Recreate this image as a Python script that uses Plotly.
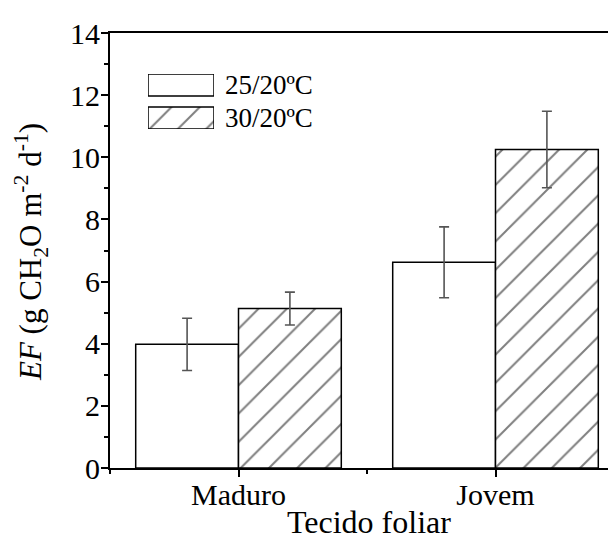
import plotly.graph_objects as go

categories = ["Maduro", "Jovem"]
series_names = ["25/20ºC", "30/20ºC"]
ef_25 = [3.98, 6.62]
err_25 = [0.84, 1.14]
ef_30 = [5.13, 10.25]
err_30 = [0.53, 1.23]
y_ticks = [0, 2, 4, 6, 8, 10, 12, 14]

FONT = "Liberation Serif, Times New Roman, serif"
xpos = list(range(len(categories)))

hatch = dict(shape="/", fgcolor="black", bgcolor="white", size=20, solidity=0.1)
line = dict(color="black", width=1.5)
err_style = dict(type="data", color="#555555", thickness=1.6, width=5)

fig = go.Figure()
fig.add_trace(go.Bar(x=xpos, y=ef_25, name=series_names[0],
                     marker=dict(color="white", line=line),
                     error_y=dict(array=err_25, **err_style)))
fig.add_trace(go.Bar(x=xpos, y=ef_30, name=series_names[1],
                     marker=dict(color="white", line=line, pattern=hatch),
                     error_y=dict(array=err_30, **err_style)))

# legend swatches drawn as bars in a small inset axis
fig.add_trace(go.Bar(x=[1], y=[1], orientation="h", width=0.667, xaxis="x2", yaxis="y2",
                     marker=dict(color="white", line=line), hoverinfo="skip"))
fig.add_trace(go.Bar(x=[1], y=[0], orientation="h", width=0.667, xaxis="x2", yaxis="y2",
                     marker=dict(color="white", line=line, pattern=hatch), hoverinfo="skip"))

# page has an 8px body margin; layout computed in screen pixels
OFF = 8
W, H = 616, 539
SL, ST, SB, SR = 110, 33, 468, 624  # plot area in screen px
pw, ph = SR - SL, SB - ST


def px_x(x):
    return (x - SL) / pw


def px_y(y):
    return (SB - y) / ph


fig.update_layout(
    width=W, height=H,
    margin=dict(l=SL - OFF, r=W - (SR - OFF), t=ST - OFF, b=H - (SB - OFF), pad=0),
    plot_bgcolor="white", paper_bgcolor="white",
    barmode="group", bargap=0.2, bargroupgap=0,
    showlegend=False,
    font=dict(family=FONT, color="black", size=30),
    xaxis=dict(range=[-0.5, 1.5], tickvals=xpos, ticktext=categories,
               showgrid=False, zeroline=False, showline=True, linecolor="black", linewidth=2,
               mirror=True, ticks="outside", ticklen=7, tickwidth=1.5, tickcolor="black",
               minor=dict(tick0=0.5, dtick=1, ticks="outside", ticklen=4, tickwidth=1.5, tickcolor="black"),
               tickfont=dict(size=30), ticklabelstandoff=-8),
    yaxis=dict(range=[0, 14], tickvals=y_ticks, showgrid=False, zeroline=False,
               showline=True, linecolor="black", linewidth=2, mirror=False,
               ticks="outside", ticklen=7, tickwidth=1.5, tickcolor="black",
               minor=dict(dtick=1, ticks="outside", ticklen=4, tickwidth=1.5, tickcolor="black"),
               tickfont=dict(size=30), ticklabelstandoff=-5),
    xaxis2=dict(domain=[px_x(148), px_x(214)], range=[0, 1], anchor="y2", visible=False, fixedrange=True),
    yaxis2=dict(domain=[px_y(129), px_y(74)], range=[-0.333, 1.333], anchor="x2", visible=False, fixedrange=True),
    annotations=[
        dict(text=series_names[0], x=px_x(223), y=px_y(85), xref="paper", yref="paper",
             xanchor="left", yanchor="middle", showarrow=False, font=dict(size=27)),
        dict(text=series_names[1], x=px_x(223), y=px_y(118), xref="paper", yref="paper",
             xanchor="left", yanchor="middle", showarrow=False, font=dict(size=27)),
        dict(text="<i>EF</i> (g CH<sub>2</sub>O m<sup>-2</sup> d<sup>-1</sup>)",
             x=px_x(31), y=px_y(252), xref="paper", yref="paper", textangle=-90,
             xanchor="center", yanchor="middle", showarrow=False, font=dict(size=31)),
        dict(text="Tecido foliar", x=px_x(369), y=px_y(522), xref="paper", yref="paper",
             xanchor="center", yanchor="middle", showarrow=False, font=dict(size=32)),
    ],
)

fig.write_html("out.html")
